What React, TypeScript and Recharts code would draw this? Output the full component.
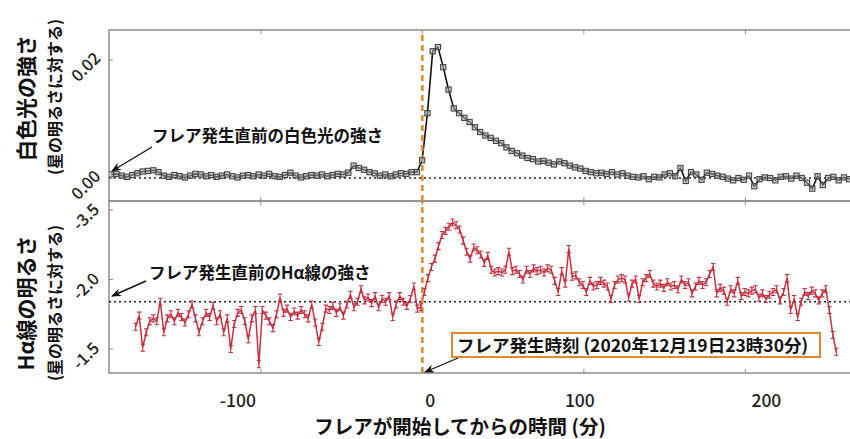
import { LineChart, Line, XAxis, YAxis, ReferenceLine, ReferenceArea } from "recharts";

const X_DOMAIN: [number, number] = [-194, 266];
const X_TICKS = [-100, 0, 100, 200];
// hand-placed labels in the source figure sit slightly off their ticks
const X_LABEL_SHIFT = [-23, 8, -4, 21];
const FLARE_START = 0;

// white-light intensity (relative to stellar brightness), ~3.3 min cadence
const WL_T0 = -192.7;
const WL_STEP = 3.264;
const WL_VALUES = [
  0.0006, 0.0007, 0.0004, 0.0002, 0.0005, 0.0008, 0.0011, 0.0012, 0.0013, 0.001,
  0.0004, 0.0002, 0.0005, 0.0003, 0.0001, 0.0004, 0.0007, 0.0006, 0.0003, 0.0005,
  0.0002, 0.0004, 0.0006, 0.0003, 0.0001, 0.0004, 0.0005, 0.0003, 0.0006, 0.0004,
  0.0007, 0.0003, 0.0002, 0.0005, 0.0009, 0.0004, 0.0001, 0.0003, 0.0005, 0.0004,
  0.0006, 0.0003, 0.0005, 0.0007, 0.0006, 0.0009, 0.0021, 0.0017, 0.0014, 0.001,
  0.0008, 0.0004, 0.0006, 0.0003, 0.0006, 0.0008, 0.0007, 0.001,
  0.001, 0.003, 0.011, 0.0215, 0.0222, 0.0188, 0.015, 0.0118, 0.011, 0.0102,
  0.0095, 0.0086, 0.0078, 0.0072, 0.0068, 0.0063, 0.0059, 0.0052, 0.0046, 0.0042,
  0.0038, 0.0034, 0.0032, 0.0028, 0.0029, 0.0026, 0.0023, 0.0028, 0.0025, 0.0021,
  0.0018, 0.0016, 0.0012, 0.001, 0.0008,
  0.0009, 0.0007, 0.001, 0.0006, 0.0008, 0.0004, 0.0002, 0.0001, 0.0003, -0.0002,
  0.0002, 0.0001, 0.0006, 0.0008, 0.0003, 0.0017, -0.0005, 0.001, 0.0006, -0.0003,
  0.0009, 0.0007, 0.0004, 0.0002, -0.0001, -0.0004, 0.0, -0.0003, 0.0004, -0.0014,
  -0.0002, 0.0001, 0.0, -0.0004, 0.0002, 0.0003, -0.0001, 0.0004, 0.0, -0.0008,
  -0.0018, 0.0003, -0.0012, 0.0, 0.0002, -0.0004, 0.0001, -0.0002,
];
const WL_DOMAIN: [number, number] = [-0.0039, 0.0251];
const WL_TICKS = [0, 0.02];
const WL_TICK_LABELS = ["0.00", "0.02"];
const WL_BASELINE = 0;

// H-alpha line brightness (relative to the star), ~2.2 min cadence
const HA_T0 = -177.5;
const HA_STEP = 2.18;
const HA_VALUES = [
  -1.66, -1.74, -1.51, -1.62, -1.7, -1.72, -1.7, -1.84, -1.62, -1.72,
  -1.75, -1.7, -1.76, -1.73, -1.69, -1.75, -1.82, -1.72, -1.62, -1.7,
  -1.76, -1.73, -1.81, -1.7, -1.75, -1.62, -1.72, -1.5, -1.68, -1.76,
  -1.78, -1.7, -1.57, -1.72, -1.78, -1.39, -1.78, -1.74, -1.7, -1.65,
  -1.75, -1.87, -1.76, -1.79, -1.73, -1.77, -1.74, -1.78, -1.75, -1.72,
  -1.82, -1.69, -1.55, -1.66, -1.79, -1.78, -1.81, -1.76, -1.8, -1.74,
  -1.82, -1.89, -1.8, -1.84, -1.93, -1.85, -1.87, -1.83, -1.88, -1.8,
  -1.86, -1.84, -1.88, -1.73, -1.82, -1.88, -1.84, -1.81, -1.86, -1.95,
  -1.79, -1.8, -1.91, -2.01, -2.09, -2.15, -2.24, -2.32, -2.35, -2.38,
  -2.41, -2.39, -2.36, -2.28, -2.2, -2.15, -2.23, -2.21, -2.18, -2.12,
  -2.17, -2.07, -2.05, -2.06, -2.05, -2.07, -2.2, -2.06, -2.07, -2.04,
  -2.0, -2.07, -2.04, -2.08, -2.06, -2.07, -2.05, -2.08, -2.07, -1.99,
  -1.91, -2.06, -1.97, -2.22, -2.02, -2.03, -1.98, -1.96, -1.91, -1.99,
  -1.95, -1.96, -1.99, -1.97, -1.95, -1.86, -1.96, -2.0, -2.01, -2.0,
  -1.87, -1.97, -2.0, -1.86, -1.98, -2.01, -2.04, -1.97, -1.95, -1.97,
  -1.94, -1.98, -1.95, -1.96, -1.93, -2.0, -1.96, -1.98, -1.9, -1.95,
  -1.99, -1.96, -1.98, -2.04, -2.09, -1.9, -1.94, -1.92, -1.84, -1.93,
  -1.9, -1.99, -1.88, -1.91, -1.9, -1.92, -1.93, -1.87, -1.9, -1.86,
  -1.89, -1.91, -1.93, -1.85, -1.91, -2.01, -1.78, -1.86, -1.73, -1.84,
  -1.91, -1.88, -1.92, -1.9, -1.85, -1.9, -1.93, -1.78, -1.6, -1.48,
];
const HA_DOMAIN: [number, number] = [-2.565, -1.327];
const HA_TICKS = [-2.5, -2.0, -1.5];
const HA_TICK_LABELS = ["-3.5", "-2.0", "-1.5"];
const HA_BASELINE = -1.84;

const wlData = WL_VALUES.map((v, i) => ({ t: WL_T0 + i * WL_STEP, v }));
const haData = HA_VALUES.map((v, i) => ({ t: HA_T0 + i * HA_STEP, v }));

const NUM_FONT = "'Noto Sans CJK JP', 'Liberation Sans', sans-serif";
const JP_FONT = "'Noto Sans CJK JP', 'Noto Sans', sans-serif";
const FRAME = "#8c8c8c";
const RED = "#c8303f";
const ORANGE = "#e8862e";

function renderYTick(p: any, vals: number[], labels: string[]) {
  const { x, y, payload, index } = p;
  const i = vals.indexOf(payload.value);
  const label = i >= 0 ? labels[i] : String(payload.value);
  const lx = x - 24;
  const ly = y + 6;
  return (
    <g key={`yt-${index}-${payload.value}`}>
      <line x1={x} x2={x + 4} y1={y} y2={y} stroke={FRAME} strokeWidth={1} />
      <text
        x={lx}
        y={ly}
        transform={`rotate(-45 ${lx} ${ly})`}
        textAnchor="middle"
        dominantBaseline="central"
        fontSize={16.5}
        fontWeight={500}
        fontFamily={NUM_FONT}
        fill="#222"
      >
        {label}
      </text>
    </g>
  );
}

function renderXTick(p: any) {
  const { x, y, payload, index } = p;
  const i = X_TICKS.indexOf(payload.value);
  const shift = i >= 0 ? X_LABEL_SHIFT[i] : 0;
  return (
    <g key={`xt-${index}-${payload.value}`}>
      <line x1={x} x2={x} y1={y} y2={y - 4} stroke={FRAME} />
      <line x1={x} x2={x} y1={201} y2={205} stroke={FRAME} />
      <line x1={x} x2={x} y1={197} y2={201} stroke={FRAME} />
      <line x1={x} x2={x} y1={30} y2={34} stroke={FRAME} />
      <text x={x + shift} y={y + 34} textAnchor="middle" fontSize={17.5} fontWeight={500} fontFamily={NUM_FONT} fill="#222">
        {payload.value}
      </text>
    </g>
  );
}

function SquareDot(props: any) {
  const { cx, cy, index } = props;
  if (cx == null || cy == null) return <g key={`s-${index}`} />;
  return (
    <rect
      key={`s-${index}`}
      x={cx - 2.6}
      y={cy - 2.6}
      width={5.2}
      height={5.2}
      fill="rgba(170,170,170,0.55)"
      stroke="#444"
      strokeWidth={1.1}
    />
  );
}

function ErrDot(props: any) {
  const { cx, cy, index } = props;
  if (cx == null || cy == null) return <g key={`e-${index}`} />;
  return (
    <path
      key={`e-${index}`}
      d={`M${cx},${cy - 3.5}V${cy + 3.5}M${cx - 2.2},${cy - 3.5}H${cx + 2.2}M${cx - 2.2},${cy + 3.5}H${cx + 2.2}`}
      stroke={RED}
      strokeWidth={1.1}
      fill="none"
    />
  );
}

export default function App() {
  return (
    <div style={{ position: "absolute", left: 0, top: 0, width: 850, height: 439, overflow: "hidden", background: "#fff" }}>
      <div style={{ position: "absolute", left: 0, top: 0 }}>
        <LineChart width={852} height={439} data={haData} margin={{ top: 201, right: 0, bottom: 26, left: 108 }}>
          <XAxis
            type="number"
            dataKey="t"
            domain={X_DOMAIN}
            ticks={X_TICKS}
            allowDataOverflow
            height={40}
            axisLine={false}
            tickLine={false}
            tickSize={0}
            tickMargin={0}
            tick={renderXTick}
          />
          <YAxis
            type="number"
            domain={HA_DOMAIN}
            reversed
            allowDataOverflow
            ticks={HA_TICKS}
            width={1}
            axisLine={false}
            tickLine={false}
            tickSize={0}
            tickMargin={0}
            tick={(p: any) => renderYTick(p, HA_TICKS, HA_TICK_LABELS)}
          />
          <ReferenceArea x1={X_DOMAIN[0]} x2={X_DOMAIN[1]} y1={HA_DOMAIN[0]} y2={HA_DOMAIN[1]} fill="none" stroke={FRAME} strokeWidth={1.5} />
          <ReferenceLine y={HA_BASELINE} stroke="#222" strokeWidth={1.5} strokeDasharray="2 3" />
          <Line
            dataKey="v"
            stroke={RED}
            strokeWidth={1.5}
            dot={ErrDot}
            activeDot={false}
            isAnimationActive={false}
          />
          <ReferenceLine x={FLARE_START} stroke={ORANGE} strokeWidth={2.5} strokeDasharray="6 4" />
        </LineChart>
      </div>
      <div style={{ position: "absolute", left: 0, top: 0 }}>
        <LineChart width={852} height={439} data={wlData} margin={{ top: 30, right: 0, bottom: 238, left: 108 }}>
          <XAxis type="number" dataKey="t" domain={X_DOMAIN} allowDataOverflow hide />
          <YAxis
            type="number"
            domain={WL_DOMAIN}
            allowDataOverflow
            ticks={WL_TICKS}
            width={1}
            axisLine={false}
            tickLine={false}
            tickSize={0}
            tickMargin={0}
            tick={(p: any) => renderYTick(p, WL_TICKS, WL_TICK_LABELS)}
          />
          <ReferenceArea x1={X_DOMAIN[0]} x2={X_DOMAIN[1]} y1={WL_DOMAIN[0]} y2={WL_DOMAIN[1]} fill="none" stroke={FRAME} strokeWidth={1.5} />
          <ReferenceLine y={WL_BASELINE} stroke="#222" strokeWidth={1.5} strokeDasharray="2 3" />
          <Line
            dataKey="v"
            stroke="#111"
            strokeWidth={1.6}
            dot={SquareDot}
            activeDot={false}
            isAnimationActive={false}
          />
          <ReferenceLine x={FLARE_START} stroke={ORANGE} strokeWidth={2.5} strokeDasharray="6 4" />
        </LineChart>
      </div>
      <svg width={850} height={439} style={{ position: "absolute", left: 0, top: 0, pointerEvents: "none" }}>
        <defs>
          <marker id="ah" markerWidth="10" markerHeight="8" refX="9" refY="4" orient="auto" markerUnits="userSpaceOnUse">
            <path d="M0,0 L10,4 L0,8 L3,4 Z" fill="#111" />
          </marker>
        </defs>
        <g fontFamily={JP_FONT} fill="#111" fontWeight={700}>
          <text x={25} y={98} fontSize={21} textAnchor="middle" dominantBaseline="central" transform="rotate(-90 25 98)">
            白色光の強さ
          </text>
          <text x={54} y={97} fontSize={16} textAnchor="middle" dominantBaseline="central" transform="rotate(-90 54 97)">
            (星の明るさに対する)
          </text>
          <text x={25} y={303} fontSize={21} textAnchor="middle" dominantBaseline="central" transform="rotate(-90 25 303)">
            Hα線の明るさ
          </text>
          <text x={54} y={303} fontSize={16} textAnchor="middle" dominantBaseline="central" transform="rotate(-90 54 303)">
            (星の明るさに対する)
          </text>
          <text x={152} y={142} fontSize={16.5}>フレア発生直前の白色光の強さ</text>
          <text x={149} y={279} fontSize={16.5}>フレア発生直前のHα線の強さ</text>
          <text x={460} y={434} fontSize={19.5} textAnchor="middle">フレアが開始してからの時間 (分)</text>
        </g>
        <line x1={152} y1={147} x2={112} y2={171} stroke="#111" strokeWidth={1.4} markerEnd="url(#ah)" />
        <line x1={146} y1={281} x2={112} y2={296} stroke="#111" strokeWidth={1.4} markerEnd="url(#ah)" />
        <rect x={452} y={333} width={368} height={24} fill="#fff" stroke={ORANGE} strokeWidth={2} />
        <text x={457} y={351.5} fontSize={17.5} fontFamily={JP_FONT} fontWeight={700} fill="#111">
          フレア発生時刻 (2020年12月19日23時30分)
        </text>
        <line x1={458} y1={358} x2={425} y2={372} stroke="#111" strokeWidth={1.3} markerEnd="url(#ah)" />
      </svg>
    </div>
  );
}
